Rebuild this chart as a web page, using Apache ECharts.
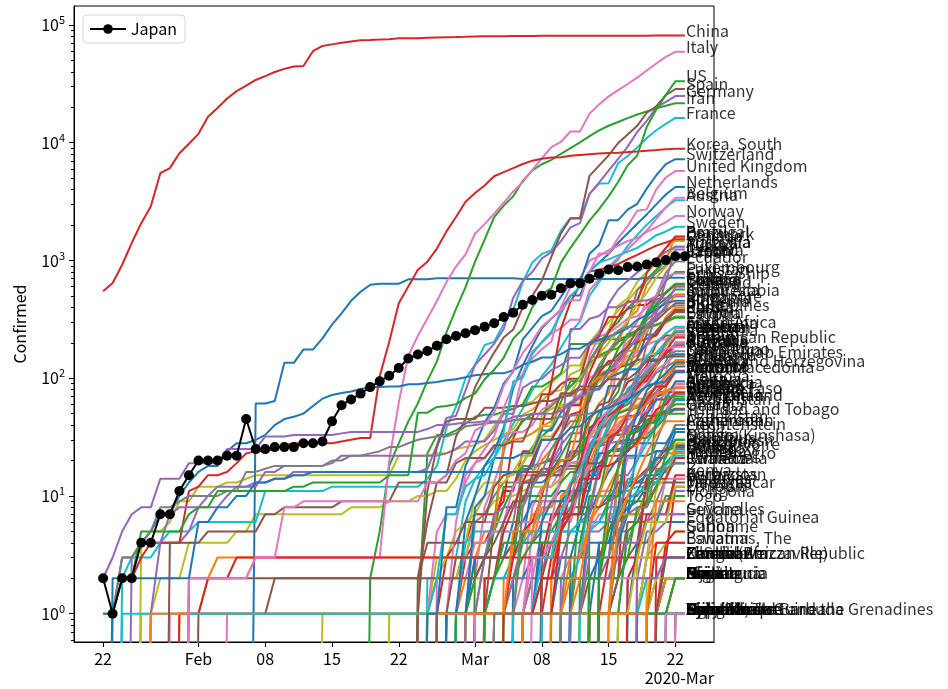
<!DOCTYPE html>
<html>
<head>
<meta charset="utf-8">
<script src="https://cdn.jsdelivr.net/npm/echarts@6/dist/echarts.min.js"></script>
<style>
html, body { margin: 0; padding: 0; background: #fff; }
#main { width: 948px; height: 689px; }
</style>
</head>
<body>
<div id="main"></div>
<script>
// cumulative confirmed cases, one value per day; the last value of every list is 2020-03-23 (day 61, day 0 = Jan 22)
var japan = [2,1,2,2,4,4,7,7,11,15, 20,20,20,22,22,45,25,25,26,26,26,28,28,29,43,59,66,74,84,94,105,122,147,159,170,189,214,228,241, 256,274,293,331,360,420,461,502,511,581,639,639,701,773,839,825,878,889,924,963,1007,1086,1086];

// first case in January
var janCases = [
    ['China', [548,643,920,1406,2075,2877,5509,6087,8141,9802, 11891,16630,19716,23707,27440,30587,34110,36814,39829,42354,44386,44759,59895,66358,68413,70513,72434,74211,74619,75077,75550,77001,77022,77241,77754,78166,78600,78928,79356, 79932,80136,80261,80386,80537,80690,80770,80823,80860,80887,80921,80932,80945,80977,81003,81033,81058,81102,81156,81250,81305,81397,81397]],
    ['Korea, South', [1,1,2,2,3,4,4,4,4,11, 12,15,15,16,19,23,24,24,25,27,28,28,28,28,28,29,30,31,31,104,204,433,602,833,977,1261,1766,2337,3150, 3736,4335,5186,5621,6088,6593,7041,7314,7478,7513,7755,7869,7979,8086,8162,8236,8320,8413,8565,8652,8799,8897,8897]],
    ['Thailand', [2,3,5,7,8,8,14,14,14,19, 19,19,19,25,25,25,25,32,32,32,33,33,33,33,33,34,35,35,35,35,35,35,35,35,37,40,40,41,42, 42,43,43,43,47,48,50,50,50,53,59,70,75,82,114,147,177,212,272,322,411,599,599]],
    ['Taiwan*', [1,1,3,3,4,5,8,8,9,10, 10,10,10,11,11,16,16,17,18,18,18,18,18,18,20,20,22,22,23,24,26,26,28,30,31,32,32,34,39, 40,41,42,42,44,45,45,45,45,47,48,49,50,53,59,67,77,100,108,135,153,169,169]],
    ['US', [1,1,2,2,5,5,5,5,5,7, 8,8,11,11,11,11,11,11,11,11,12,12,13,13,13,13,13,13,13,13,15,15,15,51,51,57,58,60,68, 74,98,118,149,217,262,402,518,583,959,1281,1663,2179,2727,3499,4632,6421,7783,13677,19100,25489,33276,33276]],
    ['Singapore', [1,3,3,4,5,7,7,10,13, 16,18,18,24,28,28,30,33,40,45,47,50,58,67,72,75,77,81,84,84,85,85,89,89,91,93,96,98,102, 106,108,110,110,117,130,138,150,150,160,178,178,200,212,226,243,266,313,345,385,432,455,455]],
    ['Vietnam', [2,2,2,2,2,2,2,2,2, 6,6,8,8,10,10,13,13,14,14,15,15,16,16,16,16,16,16,16,16,16,16,16,16,16,16,16,16,16, 16,16,16,16,16,16,18,30,30,31,38,39,47,53,56,61,66,75,85,91,94,113,113]],
    ['France', [2,3,3,3,4,5,5,5, 6,6,6,6,6,6,6,11,11,11,11,11,11,11,12,12,12,12,12,12,12,12,12,12,14,18,38,57,100, 130,191,204,288,380,656,959,1136,1219,1794,2293,2293,3681,4496,4532,6683,7715,9124,10970,12758,14463,16243,16243]],
    ['Nepal', [1,1,1,1,1,1,1,1,1,1, 1,1,1,1,1,1,1,1,1,1, 1,1,1,1,1,1,1,1,1,1, 1,1,1,1,1,1,1,1,1,1, 1,1,1,1,1,1,1,1,1,1, 1,1,1,1,1,1,1,1,1,1]],
    ['Malaysia', [3,4,4,4,7,8,8, 8,8,8,10,12,12,12,16,16,18,18,18,18,18,19,22,22,22,22,22,22,22,22,22,22,22,23,25,29, 29,29,36,50,50,83,93,99,117,129,149,149,197,238,428,566,673,790,900,1030,1183,1306,1306]],
    ['Australia', [4,5,5,6,9,9, 12,12,12,13,13,14,15,15,15,15,15,15,15,15,15,15,15,15,15,15,15,22,22,22,22,23,23,25,26, 27,30,39,52,55,60,63,76,91,107,128,128,200,250,297,377,452,568,681,791,1071,1314,1314]],
    ['Canada', [1,1,2,2,2,4, 4,4,4,4,5,5,7,7,7,7,7,7,7,7,7,7,8,8,8,8,9,9,9,10,10,11,11,14,20, 24,27,30,33,37,49,54,64,77,79,108,117,193,198,252,415,478,657,800,943,1277,1465,1465]],
    ['Germany', [1,4,4,4,5, 8,10,12,12,12,12,13,13,14,14,16,16,16,16,16,16,16,16,16,16,16,16,16,16,17,27,46,48,79, 130,159,196,262,482,670,799,1040,1176,1457,1908,2078,3675,4585,5795,7272,9257,12327,15320,19848,22213,24873,24873]],
    ['Sri Lanka', [1,1,1,1,1,1,1,1,1,1, 1,1,1,1,1,1,1,1,1,1, 1,1,1,1,1,1,1,1,1,1, 1,1,1,1,1,1,1,1,1,1, 1,1,1,1, 2,2,6,10,18,28,44,51,60,73,77,82,82]],
    ['Cambodia', [1,1,1,1,1,1,1,1,1,1, 1,1,1,1,1,1,1,1,1,1, 1,1,1,1,1,1,1,1,1,1, 1,1,1,1,1,1,1,1,1,1, 2,2,2,2,3,3,5,7,7,7,33,35,37,51,53,84,84]],
    ['Finland', [1,1,1,1,1,1,1,1,1,1, 1,1,1,1,1,1,1,1,1,1, 1,1,1,1,1,1,1,1, 2,2,2,3, 6,6,6,6,12,15,15,23,30,40,59,59,155,225,244,277,321,336,400,450,523,626,626]],
    ['United Arab Emirates', [4,4,4,4, 5,5,5,5,5,5, 7,7, 8,8,8,8,8,8, 9,9,9,9,9,9, 13,13,13,13,13,13, 19,21, 21,21,27,27,29,29,45,45,45,74,74,85,85,85,98,98,98,113,140,140,153,153,153]],
    ['India', [1,1,1,2, 3,3,3,3,3,3,3,3,3,3, 3,3,3,3,3,3,3,3,3,3, 3,3,3,3,3,3,3,3, 5,5,28,30,31,34,39,43,56,62,73,82,102,113,119,142,156,194,244,330,396,396]],
    ['Philippines', [1,1,1,2,2,2, 3,3,3,3,3,3,3,3,3,3, 3,3,3,3,3,3,3,3,3,3, 3,3,3,3,3,3,3,3,3,3, 5,6,10,20,33,49,52,64,111,140,142,187,202,217,230,307,380,380]],
    ['Italy', [2,2,2,2,2,2,2, 3,3,3,3,3,3,3,3,3,3,3,3,3,3, 20,62,155,229,322,453,655,888,1128, 1694,2036,2502,3089,3858,4636,5883,7375,9172,10149,12462,12462,17660,21157,24747,27980,31506,35713,41035,47021,53578,59138,59138]],
    ['United Kingdom', [2, 2,2,2,2,2,2,3,3,3,8,8,9,9,9,9,9,9,9,9,9,9,9,9,9,13,13,15,20,23, 36,40,51,86,116,164,207,274,322,384,459,459,802,1144,1145,1551,1960,2642,2716,4014,5067,5745,5745]],
    ['Russia', [2,2,2,2,2,2,2,2,2,2, 2,2,2,2,2,2,2,2,2,2, 2,2,2,2,2,2,2,2,2,2,2, 3,3,3,4,13,13,17,17,20,20,28,45,59,63,90,114,147,199,253,306,367,367]],
    ['Sweden', [1,1,1,1,1,1,1,1,1,1, 1,1,1,1,1,1,1,1,1,1, 1,1,1,1,1,1, 2,7,7,12, 14,15,21,35,94,101,161,203,248,355,500,599,814,961,1022,1103,1190,1279,1439,1639,1763,1934,1934]]
];

// first case in February
var febCases = [
    ['Spain', [1,1,1,1,1,1,1,1, 2,2,2,2,2,2,2,2,2,2,2,2,2,2,2,2, 6,13,15,32,45, 84,120,165,222,259,400,500,673,1073,1695,2277,2277,5232,6391,7798,9942,11748,13910,17963,20410,25374,28603,28603]],
    ['Belgium', [1,1,1,1,1,1,1,1,1,1, 1,1,1,1,1,1,1,1,1,1, 1,1,1,1,1,1, 2,8,13,23,50,109,169,200,239,267,314,314,559,689,886,1058,1243,1486,1795,2257,2815,3401,3401]],
    ['Cruise Ship', [61,61,64,135,135,175,175,218,285,355,454,542,621,634,634,634,691,691,691,705,705,705,705, 705,705,706,706,706,696,696,696,696,696,696,696,696,696,696,696,696,696,712,712,712,712,712]],
    ['Egypt', [1,1,1,1,1,1,1,1,1,1,1,1,1,1,1,1, 2,2,2,2,3,15,15,49,55,59,60,67,80,109,110,150,196,196,256,285,294,327,327]],
    ['Iran', [2,5,18,28,43,61,95,139,245,388,593, 978,1501,2336,2922,3513,4747,5823,6566,7161,8042,9000,10075,11364,12729,13938,14991,16169,17361,18407,19644,20610,21638,21638]],
    ['Lebanon', [1,1,1,1,1,2,2,2,4, 10,13,13,13,16,22,22,32,32,41,61,61,77,93,110,110,120,133,157,163,187,248,248]],
    ['Israel', [1,1,1,1,1,2,3,3,3, 7,10,12,15,15,19,25,39,39,75,75,100,126,161,200,250,304,427,529,712,883,1071,1071]],
    ['Afghanistan', [1,1,1,1,1,1,1,1,1,1,1,1,1, 4,4,5,7,7,7,11,16,21,22,22,22,24,24,40,40]],
    ['Bahrain', [1,23,33,33,36,41, 47,49,49,52,55,60,85,85,95,110,195,195,195,210,214,214,228,256,278,285,305,334,334]],
    ['Kuwait', [1,11,26,43,45,45, 45,56,56,56,58,58,61,64,64,69,72,80,80,104,112,123,130,142,148,159,176,188,188]],
    ['Iraq', [1,1,5,7,7,13, 19,21,26,32,35,35,40,54,60,71,71,71,101,110,116,124,154,164,192,208,214,233,233]],
    ['Oman', [2,4,4,4,4,6, 6,6,12,15,16,16,16,16,16,18,18,18,19,19,22,22,24,39,48,48,52,55,55]],
    ['Switzerland', [1,1,8,8,18, 27,42,56,90,114,214,268,337,374,491,652,652,1139,1359,2200,2200,2700,3028,4075,5294,6575,7245,7245]],
    ['Austria', [2,2,3,3,9, 14,18,21,29,41,55,79,104,131,182,246,302,504,655,860,1018,1332,1646,2013,2388,2814,3244,3244]],
    ['Croatia', [1,3,3,5,6, 7,7,9,10,10,11,12,12,12,14,19,19,32,38,49,57,65,81,105,128,206,254,254]],
    ['Algeria', [1,1,1,1,1, 1,3,5,12,12,17,17,19,20,20,20,24,26,37,48,54,60,74,87,90,139,201,201]],
    ['Greece', [1,3,4,4, 7,7,7,9,31,45,46,73,73,89,99,99,190,228,331,331,387,418,418,495,530,624,624]],
    ['Georgia', [1,1,1,1, 3,3,3,3,4,4,13,13,15,15,24,24,25,30,33,33,34,38,40,43,49,54,54]],
    ['Pakistan', [2,2,2,2, 4,4,5,5,5,6,6,6,6,16,19,20,28,31,53,136,236,299,454,501,730,776,776]],
    ['Romania', [1,1,3,3, 3,3,4,6,9,9,15,15,15,15,29,29,89,123,131,158,184,260,277,308,367,433,433]],
    ['North Macedonia', [1,1,1,1, 1,1,1,1,3,3,3,3,7,7,7,14,14,14,31,35,48,48,67,85,85,114,114]],
    ['Norway', [1,1,6,15, 19,25,32,56,87,108,147,176,205,400,598,702,996,1090,1221,1333,1463,1550,1746,1914,2118,2385,2385]],
    ['Brazil', [1,1,1,2, 2,2,2,4,4,13,13,20,25,31,38,52,151,151,162,200,321,372,621,793,1021,1593,1593]],
    ['Netherlands', [1,1,6, 10,18,24,38,82,128,188,265,321,382,503,503,804,959,1135,1413,1705,2051,2460,2994,3631,4204,4204]],
    ['Denmark', [1,1,3, 4,4,6,11,11,24,24,37,92,264,444,617,804,836,875,933,1024,1115,1226,1337,1420,1514,1514]],
    ['Estonia', [1,1,1, 1,1,2,3,3,10,10,10,10,13,16,16,79,115,171,205,225,258,267,283,306,326,326]],
    ['San Marino', [1,1,1, 8,10,21,21,21,23,23,36,36,51,62,69,80,80,101,109,119,119,144,144,151,160,160]],
    ['Lithuania', [1,1, 1,1,1,1,1,1,1,1,1,1,3,3,6,8,12,17,25,27,36,49,83,143,143]],
    ['Belarus', [1,1, 1,1,6,6,6,6,6,6,6,9,9,12,27,27,27,36,36,51,51,69,76,76,76]],
    ['Iceland', [1,1, 2,3,6,26,34,43,50,50,58,69,85,103,134,156,171,180,220,250,330,409,473,568,568]],
    ['Mexico', [1,4, 5,5,5,5,5,6,6,7,7,7,8,12,12,26,41,53,82,93,118,164,203,251,251]],
    ['Nigeria', [1,1, 1,1,1,1,1,1,1,2,2,2,2,2,2,2,2,2,3,8,8,12,22,30,30]],
    ['Azerbaijan', [1,1, 3,3,3,3,6,6,9,9,9,11,11,11,15,15,23,28,28,28,44,44,53,65,65]],
    ['New Zealand', [1,1, 1,1,2,2,3,4,5,5,5,5,5,5,5,6,8,8,12,20,28,39,52,66,66]],
    ['Qatar', [1, 1,3,7,8,8,8,15,15,18,24,262,262,320,337,401,401,439,452,460,470,481,494,494]],
    ['Ecuador', [1, 6,7,10,13,13,13,14,15,15,17,17,17,28,28,37,58,111,199,367,506,789,981,981]],
    ['Ireland', [1, 1,1,2,6,6,18,18,19,21,34,43,43,90,129,169,223,292,557,683,785,906,1125,1125]],
    ['Luxembourg', [1, 1,1,1,1,2,3,4,5,5,7,7,26,34,51,59,77,140,203,335,484,670,798,798]],
    ['Monaco', [1, 1,1,1,1,1,1,1,1,1,1,1,2,2,2,7,7,7,7,11,11,23,23,23]]
];

// first case in March
var marCases = [
    ['Czechia', [3,3,5,8,12,19,26,32,38,63,94,94,141,189,253,298,396,464,694,833,995,1120,1120]],
    ['Armenia', [1,1,1,1,1,1,1,1,1,1,1,4,8,18,26,52,78,84,115,136,160,194,194]],
    ['Dominican Republic', [1,1,1,1,1,1,2,5,5,5,5,5,5,11,11,11,21,21,34,72,112,202,202]],
    ['Portugal', [2,2,5,8,13,20,30,30,41,59,59,112,169,245,331,448,448,785,1020,1280,1600,1600]],
    ['Indonesia', [2,2,2,2,4,4,6,19,27,34,34,69,96,117,134,172,227,311,369,450,514,514]],
    ['Saudi Arabia', [1,1,1,5,5,5,11,15,20,21,45,86,103,103,118,171,171,274,344,392,511,511]],
    ['Latvia', [1,1,1,1,1,2,2,6,8,10,10,17,26,30,34,49,71,86,111,124,139,139]],
    ['Morocco', [1,1,1,2,2,2,2,2,3,5,6,7,17,28,29,38,49,63,77,96,115,115]],
    ['Andorra', [1,1,1,1,1,1,1,1,1,1,1,1,1,1,2,39,39,53,75,88,113,113]],
    ['Senegal', [1,2,4,4,4,4,4,4,4,4,4,10,10,24,24,26,31,31,38,47,67,67]],
    ['Jordan', [1,1,1,1,1,1,1,1,1,1,1,1,1,17,34,52,69,85,85,112,112]],
    ['Ukraine', [1,1,1,1,1,1,1,1,1,1,3,3,3,7,14,14,16,29,47,73,73]],
    ['Chile', [1,1,4,4,4,8,8,13,23,23,43,61,74,155,201,238,238,434,537,632,632]],
    ['Argentina', [1,1,1,2,8,12,12,17,19,19,31,34,45,56,68,79,97,128,158,266,266]],
    ['Liechtenstein', [1,1,1,1,1,1,1,1,1,1,1,4,4,4,7,28,28,28,28,37,37]],
    ['Hungary', [2,2,4,7,7,9,9,13,13,19,30,32,39,50,58,73,85,103,131,131]],
    ['Poland', [1,1,5,5,11,16,22,31,49,68,103,119,177,238,251,355,425,536,634,634]],
    ['Tunisia', [1,1,1,1,2,2,5,7,7,16,18,18,20,24,29,39,54,60,75,75]],
    ['Bosnia and Herzegovina', [2,2,3,3,3,5,11,11,13,18,24,25,26,38,63,89,93,126,126]],
    ['Slovenia', [1,8,12,16,25,34,57,89,141,181,219,253,275,275,286,341,383,414,414]],
    ['South Africa', [1,1,1,3,3,7,13,17,24,38,51,62,62,116,150,202,240,274,274]],
    ['Bhutan', [1,1,1,1,1,1,1,1,1,1,1,1,1,1,1,1,1,2,2]],
    ['Cameroon', [1,2,2,2,2,2,2,2,2,2,4,10,10,13,20,27,40,40]],
    ['Peru', [1,1,6,9,9,11,11,38,43,86,86,117,145,234,234,318,363,363]],
    ['Serbia', [1,1,1,1,5,12,19,35,46,48,55,65,83,103,135,171,222,222]],
    ['Slovakia', [1,3,3,3,7,10,16,32,44,54,63,72,105,123,137,178,185,185]],
    ['Colombia', [1,1,1,3,9,9,13,22,34,54,65,93,102,128,196,231,231,231]],
    ['Costa Rica', [1,5,9,9,13,22,23,26,27,35,41,50,69,89,117,134,158,158]],
    ['Togo', [1,1,1,1,1,1,1,1,1,1,1,1,1,1,9,9,9,9]],
    ['Holy See', [1,1,1,1,1,1,1,1,1,1,1,1,1,1,1,1,1,1]],
    ['Malta', [3,3,4,6,6,12,18,21,30,38,38,48,53,64,73,90,90]],
    ['Bulgaria', [4,4,6,7,7,23,41,51,52,67,92,94,127,163,187,187]],
    ['Maldives', [2,4,6,8,8,8,8,9,13,13,13,13,13,13,13,13]],
    ['Bangladesh', [3,3,3,3,3,3,3,5,8,10,14,17,20,25,27,27]],
    ['Paraguay', [1,1,5,5,6,6,6,6,8,9,11,11,13,18,22,22]],
    ['Moldova', [1,1,3,3,6,12,23,23,29,30,30,49,66,66,94,94]],
    ['Albania', [2,10,12,23,33,38,42,51,55,59,64,70,76,89,89]],
    ['Cyprus', [2,6,6,14,26,26,33,46,49,67,67,84,95,116,116]],
    ['Brunei', [1,1,1,11,11,37,40,50,54,56,68,75,78,83,83]],
    ['Mongolia', [1,1,1,1,1,1,1,5,6,6,6,10,10,10]],
    ['Burkina Faso', [2,2,2,2,2,3,15,15,20,33,40,64,75,75]],
    ['Panama', [1,8,11,27,36,43,55,69,86,109,137,200,245,245]],
    ['Congo (Kinshasa)', [1,1,1,2,2,2,2,3,4,14,18,23,30,30]],
    ['Bolivia', [2,3,10,10,10,11,11,12,12,15,19,24,24]],
    ['Honduras', [2,2,2,3,3,6,8,9,12,24,24,26,26]],
    ['Jamaica', [1,1,8,8,10,10,12,13,15,15,16,19,19]],
    ["Cote d'Ivoire", [1,1,1,1,1,1,5,6,9,9,14,25,25]],
    ['Cuba', [3,3,4,4,4,5,7,11,16,21,21,35,35]],
    ['Turkey', [1,1,5,5,6,18,47,98,192,359,670,1236,1236]],
    ['Guyana', [1,1,1,1,1,4,4,7,7,7,7,7,7]],
    ['Ghana', [2,2,2,6,6,7,7,11,16,19,23,23]],
    ['Saint Vincent and the Grenadines', [1,1,1,1,1,1,1,1,1,1,1,1]],
    ['Kazakhstan', [6,6,9,10,33,35,44,49,53,60,60]],
    ['Trinidad and Tobago', [2,2,5,7,9,9,9,49,50,50,50]],
    ['Kenya', [1,1,3,3,3,3,7,7,7,15,15]],
    ['Gabon', [1,1,1,1,1,1,3,3,4,5,5]],
    ['Ethiopia', [1,1,1,5,5,6,6,9,9,11,11]],
    ['Sudan', [1,1,1,1,1,1,1,1,1,2,2]],
    ['Mauritania', [1,1,1,1,1,1,1,1,2,2,2]],
    ['Guinea', [1,1,1,1,1,1,1,1,2,2,2]],
    ['Antigua and Barbuda', [1,1,1,1,1,1,1,1,1,1,1]],
    ['Venezuela', [2,10,17,33,36,42,42,70,70,70]],
    ['Uruguay', [4,4,8,29,50,79,94,110,135,135]],
    ['Rwanda', [1,1,5,7,8,8,17,17,19,19]],
    ['Seychelles', [2,2,3,4,4,6,7,7,7,7]],
    ['Guatemala', [1,1,2,6,6,9,12,17,19,19]],
    ['Equatorial Guinea', [1,1,1,1,4,4,6,6,6,6]],
    ['Suriname', [1,1,1,1,1,1,4,4,5,5]],
    ['Central African Republic', [1,1,1,1,1,1,1,3,3,3]],
    ['Namibia', [2,2,2,2,2,2,2,3,3,3]],
    ['Eswatini', [1,1,1,1,1,1,1,4,4,4]],
    ['Saint Lucia', [1,1,1,1,1,1,2,2,2,2]],
    ['Congo (Brazzaville)', [1,1,1,1,1,3,3,3,3,3]],
    ['Uzbekistan', [1,6,10,15,23,33,43,43,43]],
    ['Bahamas, The', [1,1,1,1,3,4,4,4,4]],
    ['Tanzania', [1,1,3,6,6,6,12,12]],
    ['Liberia', [1,1,1,2,2,3,3,3]],
    ['Benin', [1,1,1,1,2,2,2,2]],
    ['Somalia', [1,1,1,1,1,1,1,1]],
    ['Montenegro', [2,3,14,14,14,21,21]],
    ['Barbados', [2,2,5,5,6,14,14]],
    ['Gambia, The', [1,1,1,1,1,1,1]],
    ['Mauritius', [3,3,12,14,28,28]],
    ['Kyrgyzstan', [3,3,6,14,14,14]],
    ['Zambia', [2,2,2,3,3,3]],
    ['Nicaragua', [1,1,1,2,2,2]],
    ['Djibouti', [1,1,1,1,1,1]],
    ['Niger', [1,1,2,2,2]],
    ['Haiti', [2,2,2,2,2]],
    ['El Salvador', [1,1,3,3,3]],
    ['Fiji', [1,1,1,2,2]],
    ['Chad', [1,1,1,1,1]],
    ['Cabo Verde', [1,1,1,1,1]],
    ['Madagascar', [3,3,12,12]],
    ['Angola', [1,2,2,2]],
    ['Zimbabwe', [1,3,3,3]],
    ['Papua New Guinea', [1,1,1,1]],
    ['Uganda', [1,1,1]],
    ['Eritrea', [1,1,1]],
    ['Timor-Leste', [1,1,1]],
    ['Dominica', [1,1]],
    ['Grenada', [1,1]],
    ['Mozambique', [1,1]],
    ['Syria', [1,1]]
];

// x ticks (day number) and their labels
var tickDays = [0, 10, 17, 24, 31, 39, 46, 53, 60];
var tickLabels = ['22', 'Feb', '08', '15', '22', 'Mar', '08', '15', '22'];
var yTicks = [1, 10, 100, 1000, 10000, 100000];

var LAST_DAY = 61;
var ZERO = 1e-6; // 0 cases can not be shown on a log axis, line drops out of the plot
var FONT = 'Noto Sans CJK JP';

var palette = ['#1f77b4', '#ff7f0e', '#2ca02c', '#d62728', '#9467bd', '#8c564b', '#e377c2', '#7f7f7f', '#bcbd22', '#17becf'];
var colorOf = {
    'China': '#d62728', 'Italy': '#e377c2', 'US': '#2ca02c', 'Spain': '#8c564b', 'Germany': '#9467bd',
    'Iran': '#2ca02c', 'France': '#17becf', 'Korea, South': '#d62728', 'Switzerland': '#1f77b4',
    'United Kingdom': '#e377c2', 'Netherlands': '#1f77b4', 'Belgium': '#e377c2', 'Austria': '#17becf',
    'Norway': '#e377c2', 'Sweden': '#17becf', 'Thailand': '#9467bd', 'Vietnam': '#1f77b4',
    'Nepal': '#17becf', 'Cruise Ship': '#1f77b4', 'Singapore': '#1f77b4', 'United Arab Emirates': '#8c564b',
    'Philippines': '#d62728', 'India': '#ff7f0e', 'Russia': '#8c564b'
};

// minor ticks of the log axis
var yMinor = [];
for (var e = -1; e <= 4; e++) {
    for (var m = 2; m <= 9; m++) {
        var t = m * Math.pow(10, e);
        if (t > 0.575) yMinor.push(t);
    }
}

function toPoints(vals) {
    var first = LAST_DAY - vals.length + 1;
    var pts = [];
    if (first > 0) pts.push([first - 1, ZERO]);
    for (var i = 0; i < vals.length; i++) pts.push([first + i, vals[i]]);
    return pts;
}

var allCases = janCases.concat(febCases, marCases).sort(function (a, b) {
    return a[0] < b[0] ? -1 : (a[0] > b[0] ? 1 : 0);
});

var series = [];
var labels = [];
allCases.forEach(function (c, i) {
    var col = colorOf[c[0]] || palette[i % 10];
    series.push({
        name: c[0],
        type: 'line',
        data: toPoints(c[1]),
        showSymbol: false,
        symbol: 'none',
        clip: true,
        silent: true,
        lineStyle: { width: 2, color: col },
        itemStyle: { color: col },
        z: 2
    });
    labels.push({ name: c[0], value: [LAST_DAY, c[1][c[1].length - 1]] });
});
labels.push({ name: 'Japan', value: [LAST_DAY, japan[japan.length - 1]] });

series.push({
    name: 'Japan',
    type: 'line',
    data: toPoints(japan),
    symbol: 'circle',
    symbolSize: 10,
    showSymbol: true,
    clip: true,
    silent: true,
    lineStyle: { width: 2, color: '#000' },
    itemStyle: { color: '#000' },
    z: 3
});

series.push({
    name: 'labels',
    type: 'scatter',
    data: labels,
    symbolSize: 0,
    silent: true,
    z: 4,
    label: {
        show: true,
        position: 'right',
        distance: 1,
        offset: [0, -5],
        formatter: '{b}',
        color: '#000',
        fontSize: 16,
        fontFamily: FONT
    }
});

var myChart = echarts.init(document.getElementById('main'));
var option = {
    animation: false,
    backgroundColor: '#fff',
    textStyle: { fontFamily: FONT },
    grid: {
        left: 74, right: 234, top: 6, bottom: 47,
        show: true, borderColor: '#000', borderWidth: 1, backgroundColor: 'transparent'
    },
    legend: {
        data: ['Japan'],
        left: 83, top: 15,
        padding: [6, 8, 6, 6],
        itemWidth: 36, itemHeight: 12, itemGap: 8,
        backgroundColor: 'rgba(255,255,255,0.8)',
        borderColor: '#d5d5d5', borderWidth: 1, borderRadius: 4,
        textStyle: { fontSize: 16, color: '#000', fontFamily: FONT }
    },
    xAxis: {
        type: 'value',
        min: -3.05, max: 64.05,
        axisLine: { show: true, onZero: false, lineStyle: { color: '#000', width: 1 } },
        axisTick: { show: true, length: 5, customValues: tickDays, lineStyle: { color: '#000' } },
        axisLabel: {
            customValues: tickDays,
            margin: 9,
            fontSize: 16, color: '#000', fontFamily: FONT,
            formatter: function (v) { return tickLabels[tickDays.indexOf(v)]; }
        },
        splitLine: { show: false }
    },
    yAxis: [{
        type: 'log', logBase: 10,
        min: 0.575, max: 144900,
        name: 'Confirmed',
        nameLocation: 'middle',
        nameGap: 46,
        nameTextStyle: { fontSize: 16, color: '#000', fontFamily: FONT },
        axisLine: { show: true, onZero: false, lineStyle: { color: '#000', width: 1 } },
        axisTick: { show: true, length: 5, customValues: yTicks, lineStyle: { color: '#000' } },
        axisLabel: {
            customValues: yTicks,
            margin: 9,
            color: '#000',
            formatter: function (v) { return '{b|10}{s|' + Math.round(Math.log10(v)) + '}'; },
            rich: {
                b: { fontSize: 16, color: '#000', fontFamily: FONT },
                s: { fontSize: 11, color: '#000', fontFamily: FONT, padding: [0, 0, 10, 0] }
            }
        },
        splitLine: { show: false }
    }, {
        type: 'log', logBase: 10,
        min: 0.575, max: 144900,
        position: 'left',
        axisLine: { show: false, onZero: false },
        axisTick: { show: true, length: 3, customValues: yMinor, lineStyle: { color: '#000' } },
        axisLabel: { show: false },
        splitLine: { show: false }
    }],
    graphic: [{
        type: 'text',
        right: 234, top: 670,
        style: { text: '2020-Mar', fontSize: 16, fill: '#000', fontFamily: FONT }
    }],
    series: series
};
myChart.setOption(option);
window.addEventListener('resize', function () {
    myChart.resize();
});
</script>
</body>
</html>
